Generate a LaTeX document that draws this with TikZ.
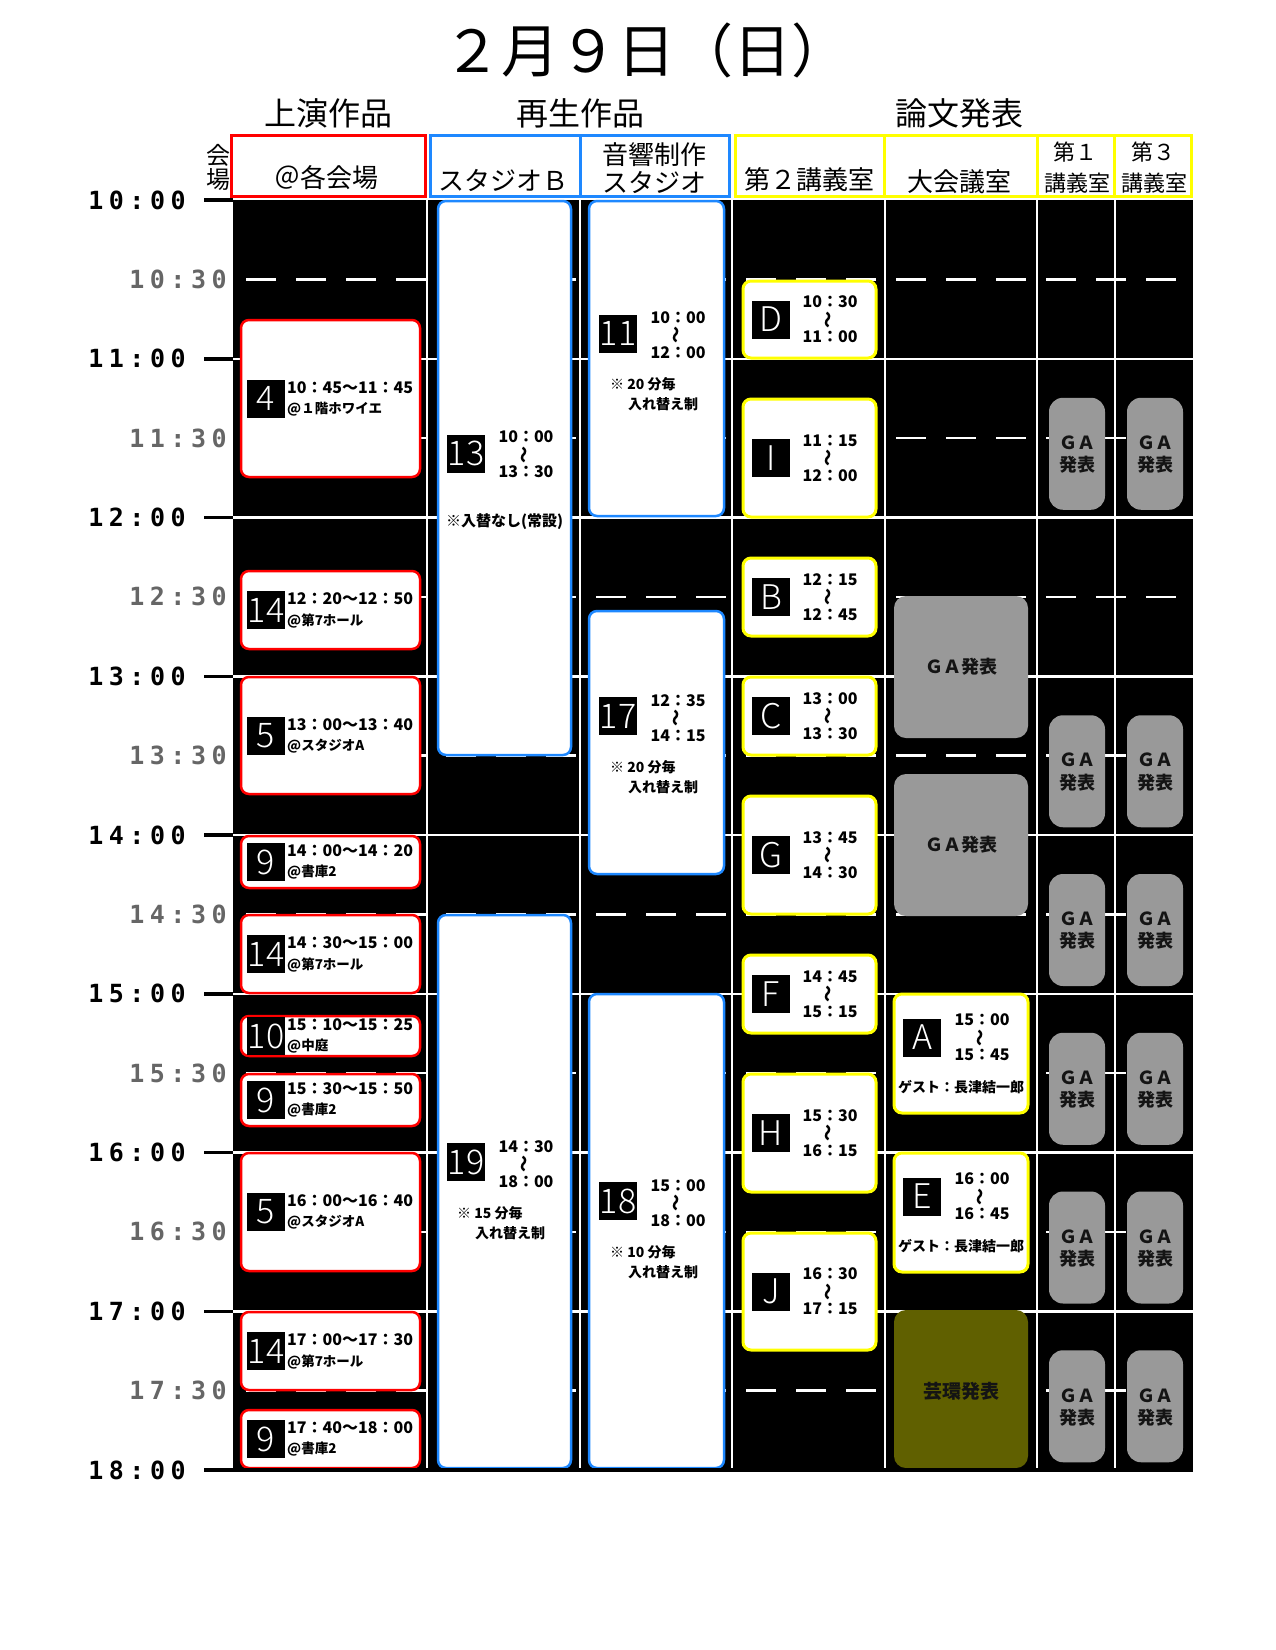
\documentclass[tikz,border=0pt]{standalone}
\usepackage{fontspec}
\setmainfont{Noto Sans CJK JP}
\newfontfamily\lightfont{Noto Sans CJK JP Light}
\newfontfamily\timefont[LetterSpace=22]{DejaVu Sans Mono}
\newcommand\fsz[1]{\fontsize{#1}{#1}\selectfont}
\definecolor{myred}{RGB}{255,0,0}
\definecolor{myblue}{RGB}{30,136,255}
\definecolor{myyellow}{RGB}{255,255,0}
\definecolor{gagray}{RGB}{153,153,153}
\definecolor{olivec}{RGB}{96,96,0}
\definecolor{halfgray}{RGB}{102,102,102}
\definecolor{gatext}{RGB}{20,20,20}
\tikzset{
 redbox/.style={draw=myred,line width=2.5pt,fill=white,rounded corners=8pt},
 bluebox/.style={draw=myblue,line width=2.5pt,fill=white,rounded corners=8pt},
 yelbox/.style={draw=myyellow,line width=3pt,fill=white,rounded corners=8pt},
 gabig/.style={fill=gagray,rounded corners=12pt},
 gasmall/.style={fill=gagray,rounded corners=14pt},
 olivebox/.style={fill=olivec,rounded corners=12pt},
 badge/.style={fill=black,text=white,minimum width=38pt,minimum height=38pt,inner sep=0pt,font=\lightfont\fsz{34}},
 tm/.style={inner sep=0pt,font=\bfseries\fsz{16}},
 tilde/.style={inner sep=0pt,rotate=90,font=\bfseries\fsz{17}},
 tmL/.style={inner sep=0pt,anchor=west,font=\bfseries\fsz{16}},
 placelbl/.style={inner sep=0pt,anchor=west,font=\bfseries\fsz{13.5}},
 notelbl/.style={inner sep=0pt,anchor=west,font=\bfseries\fsz{14}},
 galbl/.style={inner sep=0pt,font=\bfseries\fsz{18},text=gatext},
 hourlbl/.style={inner sep=0pt,font=\timefont\bfseries\fsz{25}},
 halflbl/.style={hourlbl,text=halfgray},
 hdr/.style={inner sep=0pt,font=\fsz{26}},
 hdrsmall/.style={inner sep=0pt,font=\fsz{22}},
 sect/.style={inner sep=0pt,font=\fsz{32}},
 gridv/.style={white,line width=2.5pt},
 halfline/.style={white,line width=2.5pt,dash pattern=on 30pt off 20pt},
}
% time range: name, x, ymid, t1, t2
\newcommand\tspan[5]{%
 \node[tm] (#1a) at (#2,{#3-17.5}) {#4};
 \node[tilde] (#1b) at (#2,{#3}) {～};
 \node[tm] (#1c) at (#2,{#3+17.5}) {#5};}
% left column box: name, top, bottom, number, time, place
\newcommand\lbox[6]{%
 \draw[redbox] (241,#2) rectangle (420,#3);
 \node[badge] (#1n) at (266,{(#2+#3)/2}) {#4};
 \node[tmL] (#1t) at (287,{(#2+#3)/2-11}) {#5};
 \node[placelbl] (#1p) at (287,{(#2+#3)/2+10.5}) {#6};}
% lecture room 2 box: name, top, bottom, letter, t1, t2
\newcommand\ybox[6]{%
 \draw[yelbox] (743,#2) rectangle (876,#3);
 \node[badge] (#1n) at (771,{(#2+#3)/2}) {#4};
 \tspan{#1}{830}{(#2+#3)/2}{#5}{#6}}
\begin{document}
\begin{tikzpicture}[x=1pt,y=-1pt]
\useasboundingbox (0,0) rectangle (1276,1650);
\fill[white] (0,0) rectangle (1276,1650);
% title and sections
\node[inner sep=0pt,font=\fsz{58}] (title) at (646,50) {２月９日（日）};
\node[sect] (s1) at (328,113) {上演作品};
\node[sect] (s2) at (580,113) {再生作品};
\node[sect] (s3) at (959,113) {論文発表};
% header cells
\draw[myred,line width=3pt] (231.5,135.5) rectangle (425,196.5);
\draw[myblue,line width=3pt] (430.5,135.5) rectangle (729,196.5);
\draw[myblue,line width=3pt] (580,135.5) -- (580,196.5);
\draw[myyellow,line width=3pt] (735.5,135.5) rectangle (1191.5,196.5);
\foreach \xx in {884.5,1037.5,1114.5} \draw[myyellow,line width=3pt] (\xx,135.5) -- (\xx,196.5);
\node[inner sep=0pt,font=\fsz{24}] (v1) at (218,155) {会};
\node[inner sep=0pt,font=\fsz{24}] (v2) at (218,180) {場};
\node[hdr] (h1) at (326,178) {＠各会場};
\node[hdr] (h2) at (503,180) {スタジオＢ};
\node[hdr] (h3a) at (654,155) {音響制作};
\node[hdr] (h3b) at (654,182) {スタジオ};
\node[hdr] (h4) at (809,180) {第２講義室};
\node[hdr] (h5) at (959,182) {大会議室};
\node[hdrsmall] (h6a) at (1075,152) {第１};
\node[hdrsmall] (h6b) at (1077,183) {講義室};
\node[hdrsmall] (h7a) at (1153,152) {第３};
\node[hdrsmall] (h7b) at (1154,183) {講義室};
% grid
\fill[black] (233,200) rectangle (1193,1470);
\foreach \xx in {427,580,732,885,1037,1115} \draw[gridv] (\xx,200) -- (\xx,1468);
\foreach \h in {11,...,17} {
  \pgfmathsetmacro\yy{200+(\h-10)*158.75}
  \draw[gridv] (233,\yy) -- (1193,\yy);
}
\foreach \h in {10,...,17} {
  \pgfmathsetmacro\yy{279.375+(\h-10)*158.75}
  \draw[halfline] (246,\yy) -- (1193,\yy);
}
% left column
\lbox{La}{320}{477}{4}{10：45～11：45}{@１階ホワイエ}
\lbox{Lb}{571}{649}{14}{12：20～12：50}{@第7ホール}
\lbox{Lc}{677}{794}{5}{13：00～13：40}{@スタジオA}
\lbox{Ld}{836}{888}{9}{14：00～14：20}{@書庫2}
\lbox{Le}{915}{993}{14}{14：30～15：00}{@第7ホール}
\lbox{Lf}{1016}{1056}{10}{15：10～15：25}{@中庭}
\lbox{Lg}{1074}{1126}{9}{15：30～15：50}{@書庫2}
\lbox{Lh}{1153}{1271}{5}{16：00～16：40}{@スタジオA}
\lbox{Li}{1312}{1390}{14}{17：00～17：30}{@第7ホール}
\lbox{Lj}{1410}{1468}{9}{17：40～18：00}{@書庫2}
% studio B
\draw[bluebox] (438,201) rectangle (571,755);
\node[badge] (b13) at (466,453.5) {13};
\tspan{t13}{526}{454.5}{10：00}{13：30}
\node[inner sep=0pt,font=\bfseries\fsz{15}] (n13) at (504.5,522) {※入替なし(常設)};
\draw[bluebox] (438,915) rectangle (571,1468);
\node[badge] (b19) at (466,1162) {19};
\tspan{t19}{526}{1164}{14：30}{18：00}
\node[notelbl] (n19a) at (457,1213) {※ 15 分毎};
\node[notelbl] (n19b) at (475,1233) {入れ替え制};
% sound studio
\draw[bluebox] (589,201) rectangle (724,516);
\node[badge] (b11) at (618,333.5) {11};
\tspan{t11}{678}{335}{10：00}{12：00}
\node[notelbl] (n11a) at (610,384) {※ 20 分毎};
\node[notelbl] (n11b) at (628,404) {入れ替え制};
\draw[bluebox] (589,611) rectangle (724,874);
\node[badge] (b17) at (618,716) {17};
\tspan{t17}{678}{718}{12：35}{14：15}
\node[notelbl] (n17a) at (610,767) {※ 20 分毎};
\node[notelbl] (n17b) at (628,787) {入れ替え制};
\draw[bluebox] (589,994) rectangle (724,1468);
\node[badge] (b18) at (618,1201) {18};
\tspan{t18}{678}{1203}{15：00}{18：00}
\node[notelbl] (n18a) at (610,1252) {※ 10 分毎};
\node[notelbl] (n18b) at (628,1272) {入れ替え制};
% lecture room 2
\ybox{YD}{281}{358}{D}{10：30}{11：00}
\ybox{YI}{399}{517}{I}{11：15}{12：00}
\ybox{YB}{558}{636}{B}{12：15}{12：45}
\ybox{YC}{677}{755}{C}{13：00}{13：30}
\ybox{YG}{796}{914}{G}{13：45}{14：30}
\ybox{YF}{955}{1033}{F}{14：45}{15：15}
\ybox{YH}{1074}{1192}{H}{15：30}{16：15}
\ybox{YJ}{1233}{1350}{J}{16：30}{17：15}
% main hall
\fill[gabig] (894,596) rectangle (1028,738);
\node[galbl] (ga1) at (961,667) {ＧＡ発表};
\fill[gabig] (894,774) rectangle (1028,916);
\node[galbl] (ga2) at (961,845) {ＧＡ発表};
\draw[yelbox] (894,994) rectangle (1028,1113);
\node[badge] (bA) at (922,1037.5) {A};
\tspan{tA}{982}{1037.5}{15：00}{15：45}
\node[inner sep=0pt,font=\bfseries\fsz{14}] (gA) at (961,1087) {ゲスト：長津結一郎};
\draw[yelbox] (894,1153) rectangle (1028,1272);
\node[badge] (bE) at (922,1196.5) {E};
\tspan{tE}{982}{1196.5}{16：00}{16：45}
\node[inner sep=0pt,font=\bfseries\fsz{14}] (gE) at (961,1246) {ゲスト：長津結一郎};
\fill[olivebox] (894,1310) rectangle (1028,1468);
\node[galbl,font=\bfseries\fsz{19}] (gk) at (961,1391) {芸環発表};
% rooms 1 and 3
\foreach \h in {11,13,14,15,16,17} {
  \pgfmathsetmacro\yy{200+(\h-10)*158.75}
  \fill[gasmall] (1049,\yy+39) rectangle (1105,\yy+151);
  \fill[gasmall] (1127,\yy+39) rectangle (1183,\yy+151);
  \node[galbl] (gx\h a) at (1077,\yy+84) {ＧＡ};
  \node[galbl] (gx\h b) at (1077,\yy+106) {発表};
  \node[galbl] (gy\h a) at (1155,\yy+84) {ＧＡ};
  \node[galbl] (gy\h b) at (1155,\yy+106) {発表};
}
% time axis
\foreach \h in {10,...,18} {
  \pgfmathsetmacro\yy{200+(\h-10)*158.75}
  \draw[black,line width=3.5pt] (204,\yy) -- (233,\yy);
  \node[hourlbl] (hl\h) at (137,\yy) {\h:00};
}
\draw[black,line width=3.5pt] (204,1470) -- (1193,1470);
\foreach \h in {10,...,17} {
  \pgfmathsetmacro\yy{279.375+(\h-10)*158.75}
  \node[halflbl] (hh\h) at (178,\yy) {\h:30};
}
\end{tikzpicture}
\end{document}
